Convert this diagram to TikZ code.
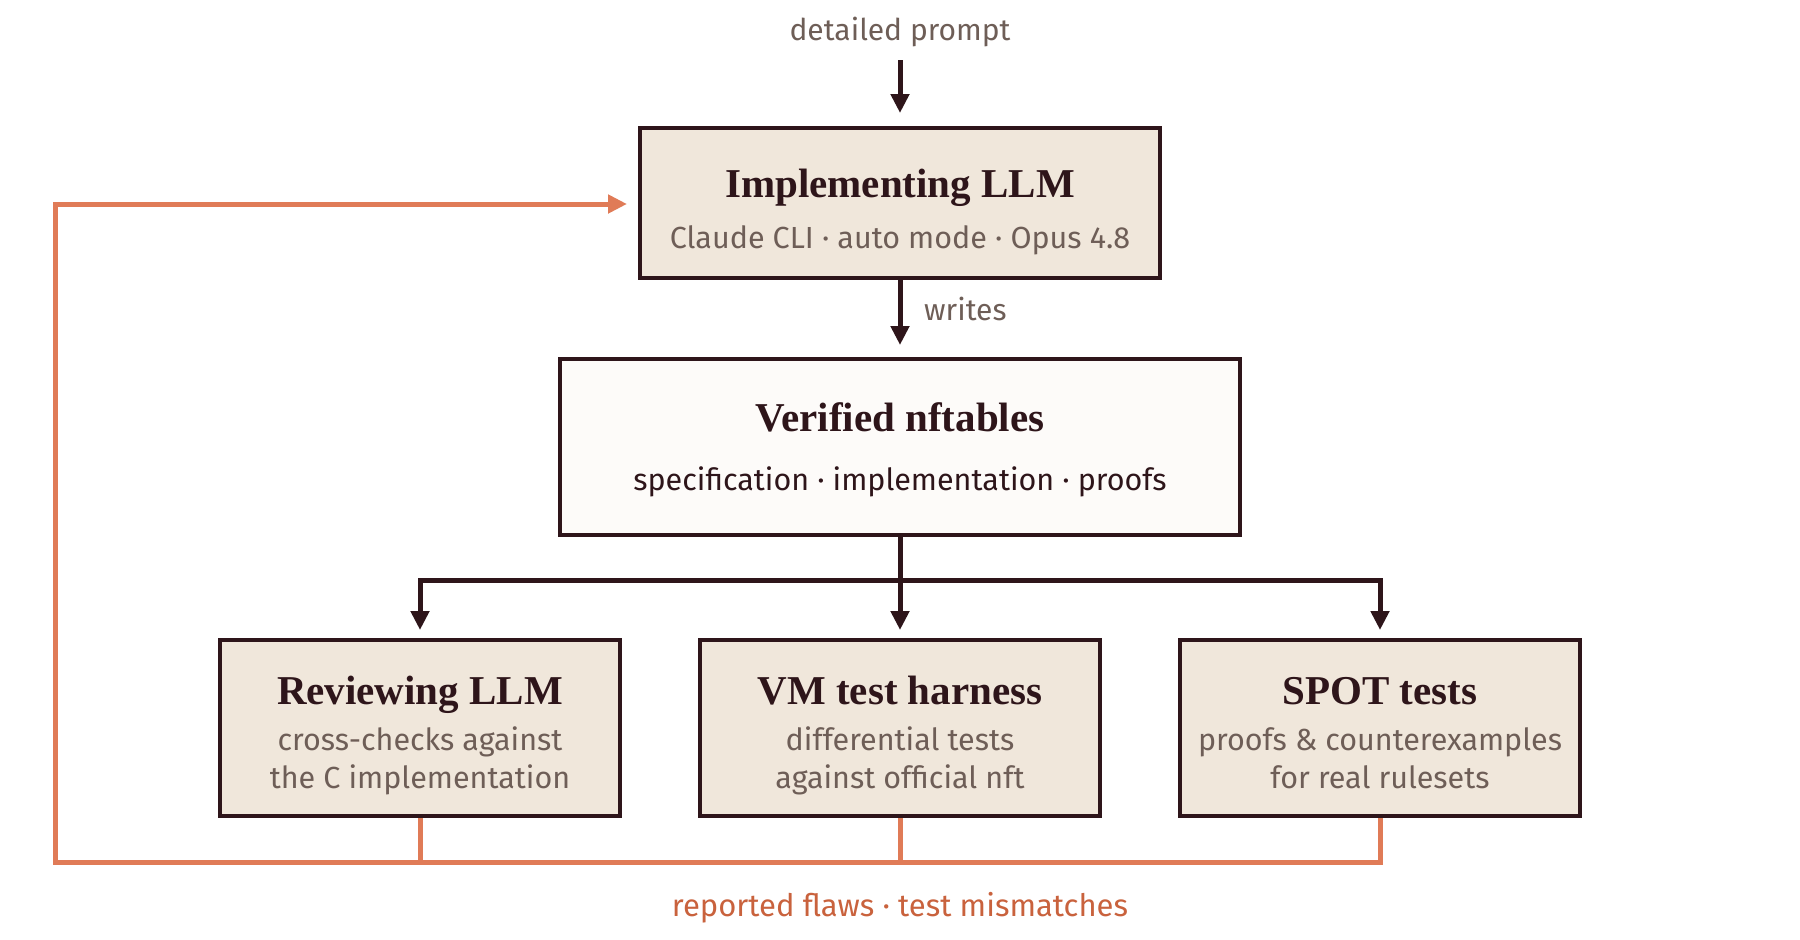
\documentclass[tikz,border=0pt]{standalone}
\usepackage{fontspec}
\setmainfont{Liberation Serif}
\newfontfamily\sansf{Fira Sans}
\usetikzlibrary{arrows.meta}
\definecolor{ink}{HTML}{2E151A}
\definecolor{beige}{HTML}{F0E7DB}
\definecolor{paper}{HTML}{FDFBF9}
\definecolor{subgray}{HTML}{6E5E57}
\definecolor{orangeline}{HTML}{E07B57}
\definecolor{orangetext}{HTML}{C9623D}
\begin{document}
\begin{tikzpicture}[x=1pt,y=-1pt,
  box/.style={draw=ink, line width=4pt, fill=beige, inner sep=0pt},
  whitebox/.style={box, fill=paper},
  ttl/.style={anchor=base, text=ink, font=\fontsize{41}{45}\selectfont\bfseries, inner sep=0pt},
  sub/.style={anchor=base, text=subgray, font=\sansf\fontsize{30.5}{34}\selectfont, inner sep=0pt},
  tip/.style={-{Triangle[length=19pt,width=18pt]}},
  flow/.style={draw=ink, line width=5pt, tip},
  trunk/.style={draw=ink, line width=5pt},
  fb/.style={draw=orangeline, line width=5pt},
  lbl/.style={anchor=base, text=subgray, font=\sansf\fontsize{30}{34}\selectfont, inner sep=0pt}]
\useasboundingbox (0,0) rectangle (1800,940);
\fill[white] (0,0) rectangle (1800,940);

% boxes
\node[box, minimum width=520pt, minimum height=150pt] (impl) at (900,203) {};
\node[whitebox, minimum width=680pt, minimum height=176pt] (ver) at (900,447) {};
\node[box, minimum width=400pt, minimum height=176pt] (rev) at (420,728) {};
\node[box, minimum width=400pt, minimum height=176pt] (vm) at (900,728) {};
\node[box, minimum width=400pt, minimum height=176pt] (spot) at (1380,728) {};

% texts
\node[ttl] (implT) at (900,197) {Implementing LLM};
\node[sub] (implS) at (900,248) {Claude CLI · auto mode · Opus 4.8};
\node[ttl] (verT) at (900,431) {Verified nftables};
\node[sub, text=ink] (verS) at (900,490) {specification · implementation · proofs};
\node[ttl] (revT) at (420,704) {Reviewing LLM};
\node[sub] (revS1) at (420,750) {cross-checks against};
\node[sub] (revS2) at (420,788) {the C implementation};
\node[ttl] (vmT) at (900,704) {VM test harness};
\node[sub] (vmS1) at (900,750) {differential tests};
\node[sub] (vmS2) at (900,788) {against official nft};
\node[ttl] (spotT) at (1380,704) {SPOT tests};
\node[sub] (spotS1) at (1380,750) {proofs \& counterexamples};
\node[sub] (spotS2) at (1380,788) {for real rulesets};

\node[lbl] (prompt) at (900,40) {detailed prompt};
\node[lbl, anchor=base west] (writes) at (924,320) {writes};
\node[lbl, text=orangetext, font=\sansf\fontsize{31}{34}\selectfont] (flaws) at (900,916) {reported flaws · test mismatches};

% arrow end points
\coordinate (pin) at (900,60);
\coordinate (implIn) at (900,113);
\coordinate (verIn) at (900,345);
\coordinate (split) at (900,580);
\coordinate (revTop) at (420,580);
\coordinate (spotTop) at (1380,580);
\coordinate (revIn) at (420,630);
\coordinate (vmIn) at (900,630);
\coordinate (spotIn) at (1380,630);
\coordinate (fbL) at (55,862);
\coordinate (fbR) at (1380,862);
\coordinate (fbTop) at (55,204);
\coordinate (fbIn) at (627,204);

% main flow
\draw[flow] (pin) -- (implIn);
\draw[flow] (impl.south) -- (verIn);
\draw[trunk] (ver.south) -- (split);
\draw[trunk, line cap=rect] (revTop) -- (spotTop);
\draw[flow] (revTop) -- (revIn);
\draw[flow] (split) -- (vmIn);
\draw[flow] (spotTop) -- (spotIn);

% feedback
\draw[fb] (rev.south) -- (rev.south |- fbL);
\draw[fb] (vm.south) -- (vm.south |- fbL);
\draw[fb, line join=miter, tip] (spot.south) -- (fbR) -- (fbL) -- (fbTop) -- (fbIn);
\end{tikzpicture}
\end{document}
